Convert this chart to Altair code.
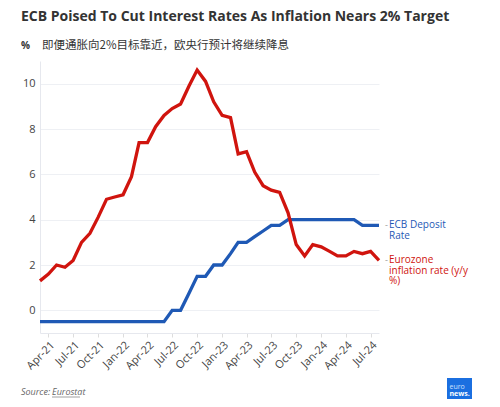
import altair as alt
import pandas as pd

months = pd.date_range("2021-03-01", "2024-08-01", freq="MS").strftime("%Y-%m-%d").tolist()

inflation = [
    1.3, 1.6, 2.0, 1.9, 2.2, 3.0, 3.4, 4.1, 4.9, 5.0,
    5.1, 5.9, 7.4, 7.4, 8.1, 8.6, 8.9, 9.1, 9.9, 10.6, 10.1, 9.2,
    8.6, 8.5, 6.9, 7.0, 6.1, 5.5, 5.3, 5.2, 4.3, 2.9, 2.4, 2.9,
    2.8, 2.6, 2.4, 2.4, 2.6, 2.5, 2.6, 2.2,
]
deposit = [
    -0.5, -0.5, -0.5, -0.5, -0.5, -0.5, -0.5, -0.5, -0.5, -0.5,
    -0.5, -0.5, -0.5, -0.5, -0.5, -0.5, 0.0, 0.0, 0.75, 1.5, 1.5, 2.0,
    2.0, 2.5, 3.0, 3.0, 3.25, 3.5, 3.75, 3.75, 4.0, 4.0, 4.0, 4.0,
    4.0, 4.0, 4.0, 4.0, 4.0, 3.75, 3.75, 3.75,
]

series_names = ["ECB Deposit Rate", "Eurozone inflation rate (y/y %)"]
series_labels = [["ECB Deposit", "Rate"], ["Eurozone", "inflation rate (y/y", "%)"]]
series_colors = ["#1f59b5", "#d0140e"]
label_colors = ["#2a5aa8", "#c0302a"]

title_text = "ECB Poised To Cut Interest Rates As Inflation Nears 2% Target"
subtitle_unit = "%"
subtitle_text = "即便通胀向2%目标靠近，欧央行预计将继续降息"
source_prefix = "Source:"
source_name = "Eurostat"

tick_dates = ["2021-04-01", "2021-07-01", "2021-10-01", "2022-01-01", "2022-04-01",
              "2022-07-01", "2022-10-01", "2023-01-01", "2023-04-01", "2023-07-01",
              "2023-10-01", "2024-01-01", "2024-04-01", "2024-07-01"]
y_ticks = [0, 2, 4, 6, 8, 10]

FONT = "Open Sans"

rows = []
for d, i, r in zip(months, inflation, deposit):
    rows.append({"date": d, "value": r, "series": series_names[0]})
    rows.append({"date": d, "value": i, "series": series_names[1]})
df = pd.DataFrame(rows)

last = pd.DataFrame({
    "date": [months[-1], months[-1]],
    "value": [deposit[-1], inflation[-1]],
    "series": series_names,
    "label": series_labels,
})


def ms(s):
    return int(pd.Timestamp(s, tz="UTC").value // 10**6)


x_enc = alt.X(
    "date:T",
    scale=alt.Scale(type="utc", domain=[ms(months[0]), ms(months[-1])]),
    axis=alt.Axis(
        values=[ms(t) for t in tick_dates],
        labelExpr="utcFormat(datum.value, '%b-%y')",
        labelAngle=-45,
        labelAlign="right",
        labelBaseline="top",
        labelOverlap=False,
        labelFont=FONT,
        labelFontSize=11,
        labelColor="#444444",
        labelPadding=2,
        tickColor="#dddddd",
        tickSize=4,
        domainColor="#e6e8ee",
        grid=False,
        title=None,
    ),
)
y_enc = alt.Y(
    "value:Q",
    scale=alt.Scale(domain=[-1, 11], nice=False, zero=False),
    axis=alt.Axis(
        values=y_ticks,
        labelFont=FONT,
        labelFontSize=11,
        labelColor="#444444",
        labelPadding=5,
        ticks=False,
        domainColor="#e6e8ee",
        gridColor="#eef0f4",
        title=None,
    ),
)
color_enc = alt.Color(
    "series:N",
    scale=alt.Scale(domain=series_names, range=series_colors),
    legend=None,
)

lines = alt.Chart(df).mark_line(strokeWidth=3.3, strokeJoin="miter").encode(
    x=x_enc, y=y_enc, color=color_enc
)

dash = alt.Chart(last).mark_text(
    text="-", dx=6, align="left", baseline="middle", font=FONT, fontSize=9, color="#9a9a9a"
).encode(x=x_enc, y=y_enc)

end_labels = alt.Chart(last).mark_text(
    dx=10, align="left", baseline="middle", font=FONT, fontSize=10, lineHeight=10.5
).encode(
    x=x_enc,
    y=y_enc,
    text="label:N",
    color=alt.Color("series:N", scale=alt.Scale(domain=series_names, range=label_colors), legend=None),
)

one = pd.DataFrame({"k": [0]})

title = alt.Chart(one).mark_text(
    text=title_text, align="left", baseline="alphabetic", font=FONT, fontSize=14,
    fontWeight="bold", color="#333333"
).encode(x=alt.value(-19), y=alt.value(-40))

sub_unit = alt.Chart(one).mark_text(
    text=subtitle_unit, align="left", baseline="alphabetic", font=FONT, fontSize=10,
    fontWeight="bold", color="#333333"
).encode(x=alt.value(-19), y=alt.value(-12))

sub = alt.Chart(one).mark_text(
    text=subtitle_text, align="left", baseline="alphabetic", font="Noto Sans CJK SC",
    fontSize=11.5, color="#333333"
).encode(x=alt.value(2), y=alt.value(-12))

src1 = alt.Chart(one).mark_text(
    text=source_prefix, align="left", baseline="alphabetic", font=FONT, fontSize=9,
    fontStyle="italic", color="#666666"
).encode(x=alt.value(-19), y=alt.value(334))

src2 = alt.Chart(one).mark_text(
    text=source_name, align="left", baseline="alphabetic", font=FONT, fontSize=9,
    fontStyle="italic", color="#666666"
).encode(x=alt.value(12), y=alt.value(334))

src_line = alt.Chart(one).mark_rule(color="#888888", strokeWidth=0.8).encode(
    x=alt.value(12), x2=alt.value(40), y=alt.value(336)
)

logo_box = alt.Chart(one).mark_rect(color="#1b6fe0").encode(
    x=alt.value(407), x2=alt.value(432), y=alt.value(317), y2=alt.value(342)
)
logo_t1 = alt.Chart(one).mark_text(
    text="euro", align="left", baseline="alphabetic", font=FONT, fontSize=7,
    color="#cfe0ff"
).encode(x=alt.value(409.5), y=alt.value(328))
logo_t2 = alt.Chart(one).mark_text(
    text="news.", align="left", baseline="alphabetic", font=FONT, fontSize=7,
    fontWeight="bold", color="#ffffff"
).encode(x=alt.value(409.5), y=alt.value(335))

chart = alt.layer(
    lines, dash, end_labels, title, sub_unit, sub, src1, src2, src_line,
    logo_box, logo_t1, logo_t2,
).properties(
    width=339,
    height=272,
    padding={"left": 32, "top": 53, "right": 113, "bottom": 66},
    autosize=alt.AutoSizeParams(type="none"),
    background="#ffffff",
).configure_view(stroke=None)

chart.save("out.html", embed_options={"renderer": "svg", "actions": False})
